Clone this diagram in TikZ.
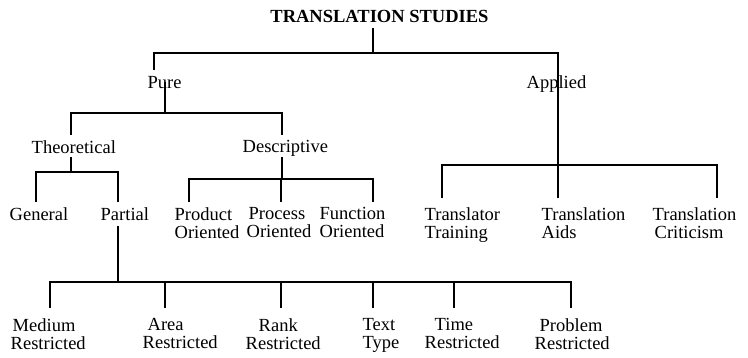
\documentclass[tikz,border=0pt]{standalone}
\usepackage{fontspec}
\setmainfont{Liberation Serif}
\usetikzlibrary{arrows}

\begin{document}
\begin{tikzpicture}[x=1pt,y=-1pt,line width=1.4pt,
                    title node/.style={anchor=base,inner sep=0pt,outer sep=6pt,font=\fontsize{18.5}{16}\selectfont\bfseries},
                    label node/.style={anchor=north west,inner sep=0pt,align=left,font=\fontsize{18.5}{17.5}\selectfont}]
      \useasboundingbox (0,0) rectangle (748,357);
      \node[title node] (ts) at (379.5,22) {TRANSLATION STUDIES};
      \node[label node] (pure) at (147,76) {Pure};
      \node[label node] (applied) at (526,75) {Applied};
      \node[label node] (theo) at (31,140) {Theoretical};
      \node[label node] (desc) at (242,140) {Descriptive};
      \node[label node] (gen) at (9,207) {General};
      \node[label node] (part) at (100,207) {Partial};
      \node[label node] (prod) at (174,207) {Product\\Oriented};
      \node[label node] (proc) at (246,207) {\hspace*{2pt}Process\\Oriented};
      \node[label node] (func) at (319,207) {Function\\Oriented};
      \node[label node] (train) at (424,207) {Translator\\Training};
      \node[label node] (aids) at (541,207) {Translation\\Aids};
      \node[label node] (crit) at (652,207) {Translation\\\hspace*{2pt}Criticism};
      \node[label node] (medium) at (10,318) {\hspace*{2pt}Medium\\Restricted};
      \node[label node] (area) at (142,318) {\hspace*{5pt}Area\\Restricted};
      \node[label node] (rank) at (245,318) {\hspace*{13pt}Rank\\Restricted};
      \node[label node] (text) at (362,318) {Text\\Type};
      \node[label node] (time) at (424,318) {\hspace*{10pt}Time\\Restricted};
      \node[label node] (problem) at (534,318) {\hspace*{5pt}Problem\\Restricted};
      \coordinate (ts-j) at (373,53);
      \coordinate (pure-in) at (154,70);
      \coordinate (pure-out) at (165,82);
      \coordinate (pure-j) at (165,113);
      \coordinate (app-j) at (558,165);
      \coordinate (theo-in) at (71,135);
      \coordinate (theo-out) at (71,157);
      \coordinate (theo-j) at (71,172);
      \coordinate (desc-in) at (282,135);
      \coordinate (desc-out) at (282,157);
      \coordinate (desc-j) at (282,179);
      \coordinate (gen-in) at (36,202);
      \coordinate (part-in) at (118,202);
      \coordinate (part-out) at (118,226);
      \coordinate (part-j) at (118,282);
      \coordinate (prod-in) at (189,202);
      \coordinate (proc-in) at (281,202);
      \coordinate (func-in) at (373,202);
      \coordinate (train-in) at (442,198);
      \coordinate (aids-in) at (558,198);
      \coordinate (crit-in) at (717,198);
      \coordinate (medium-in) at (50,308);
      \coordinate (area-in) at (165,308);
      \coordinate (rank-in) at (281,308);
      \coordinate (text-in) at (373,308);
      \coordinate (time-in) at (454,308);
      \coordinate (problem-in) at (571,308);
      \draw (ts.south -| ts-j) -- (ts-j);
      \draw (pure-in) |- (ts-j) -| (app-j);
      \draw (pure-out) -- (pure-j);
      \draw (theo-in) |- (pure-j) -| (desc-in);
      \draw (theo-out) -- (theo-j);
      \draw (gen-in) |- (theo-j) -| (part-in);
      \draw (desc-out) -- (desc-j);
      \draw (prod-in) |- (desc-j) -| (func-in);
      \draw (proc-in |- desc-j) -- (proc-in);
      \draw (train-in) |- (app-j) -| (crit-in);
      \draw (app-j) -- (aids-in);
      \draw (part-out) -- (part-j);
      \draw (medium-in) |- (part-j) -| (problem-in);
      \foreach \c in {area-in,rank-in,text-in,time-in}
        \draw (\c |- part-j) -- (\c);
\end{tikzpicture}
\end{document}
